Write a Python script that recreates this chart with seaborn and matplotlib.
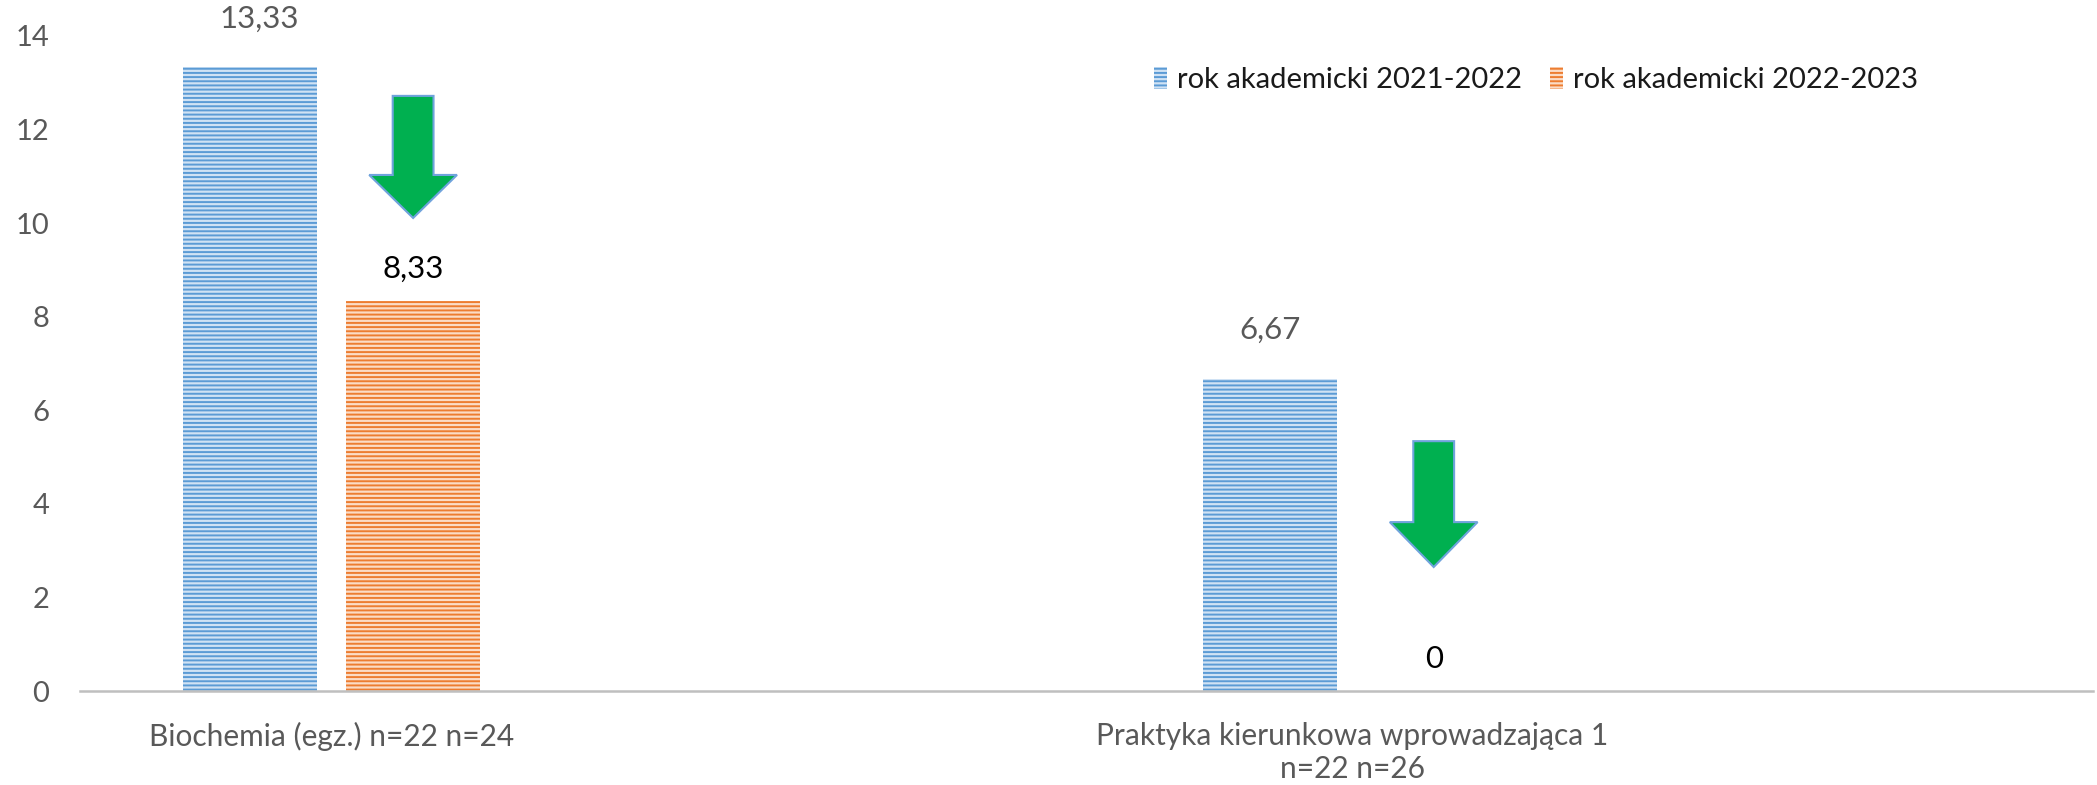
import matplotlib
matplotlib.use("Agg")
import matplotlib.pyplot as plt
import seaborn as sns
import pandas as pd
from matplotlib.patches import Polygon, Patch

# ---------------- data ----------------
categories = ["Biochemia (egz.) n=22 n=24",
              "Praktyka kierunkowa wprowadzająca 1\nn=22 n=26"]
series_names = ["rok akademicki 2021-2022", "rok akademicki 2022-2023"]
values_2021_2022 = [13.33, 6.67]
values_2022_2023 = [8.33, 0]
y_ticks = [0, 2, 4, 6, 8, 10, 12, 14]

# ---------------- style ----------------
line_colors = ["#5B9BD5", "#ED7D31"]
face_colors = ["#D0E2F4", "#FBDCC6"]
label_colors = ["#595959", "#000000"]
label_pads = [25, 13]
HATCH = "----"

sns.set_theme(style="white")
plt.rcParams['font.family'] = ['Lato', 'DejaVu Sans']
plt.rcParams['hatch.linewidth'] = 1.4

df = pd.DataFrame({
    "category": categories * 2,
    "series": [series_names[0]] * 2 + [series_names[1]] * 2,
    "value": values_2021_2022 + values_2022_2023,
})

W, H = 2097, 785
fig = plt.figure(figsize=(W / 100, H / 100), dpi=100)
ax = fig.add_axes([80 / W, 1 - 691 / H, 2013 / W, 655 / H])

sns.barplot(data=df, x="category", y="value", hue="series",
            order=categories, hue_order=series_names,
            palette=line_colors, width=0.32, gap=0.18,
            errorbar=None, legend=False, ax=ax)


def style_patch(p, i):
    p.set_facecolor(face_colors[i])
    p.set_edgecolor(line_colors[i])
    p.set_linewidth(0)
    p.set_hatch(HATCH)
    if hasattr(p, "set_hatchcolor"):
        p.set_hatchcolor(line_colors[i])


series_values = [values_2021_2022, values_2022_2023]
for i, cont in enumerate(ax.containers):
    for bar in cont:
        style_patch(bar, i)
    labels = [("%g" % v).replace(".", ",") for v in series_values[i]]
    texts = ax.bar_label(cont, labels=labels, padding=label_pads[i],
                         color=label_colors[i], fontsize=22.5)
    if i == 0:
        # first label sits slightly right of its bar in the original
        ann = texts[0]
        ann.xyann = (ann.xyann[0] + 7, ann.xyann[1])

ax.set_ylim(0, 14)
ax.set_xlim(-0.2464, 1.726)
ax.set_yticks(y_ticks)
ax.set_xlabel("")
ax.set_ylabel("")
for s in ["left", "top", "right"]:
    ax.spines[s].set_visible(False)
ax.spines["bottom"].set_color("#BFBFBF")
ax.spines["bottom"].set_linewidth(1.8)
ax.tick_params(axis="y", length=0, labelsize=21, labelcolor="#595959", pad=22)
ax.tick_params(axis="x", length=0, labelsize=21.5, labelcolor="#595959", pad=22)
for t in ax.get_xticklabels():
    t.set_linespacing(1.25)
ax.grid(False)

# ---------------- decorative down arrows over the 2022-2023 bars ----------------
arrow_top = [12.72, 5.34]
arrow_head = [11.03, 3.61]
arrow_bottom = [10.11, 2.65]
head_w = 0.086
shaft_w = 0.040
for j, bar in enumerate(ax.containers[1]):
    cx = bar.get_x() + bar.get_width() / 2
    pts = [
        (cx - shaft_w / 2, arrow_top[j]),
        (cx + shaft_w / 2, arrow_top[j]),
        (cx + shaft_w / 2, arrow_head[j]),
        (cx + head_w / 2, arrow_head[j]),
        (cx, arrow_bottom[j]),
        (cx - head_w / 2, arrow_head[j]),
        (cx - shaft_w / 2, arrow_head[j]),
    ]
    ax.add_patch(Polygon(pts, closed=True, facecolor="#00B050",
                         edgecolor="#6FA3DC", linewidth=1.5, zorder=5))

# ---------------- legend ----------------
handles = []
for i, name in enumerate(series_names):
    p = Patch(label=name)
    style_patch(p, i)
    handles.append(p)
leg = ax.legend(handles=handles, loc="center left",
                bbox_to_anchor=(1154 / W, 1 - 80 / H),
                bbox_transform=fig.transFigure, frameon=False, ncol=2,
                fontsize=21, handlelength=0.45, handleheight=0.8,
                handletextpad=0.35, columnspacing=0.95,
                borderaxespad=0, borderpad=0)
for t in leg.get_texts():
    t.set_color("#1A1A1A")

fig.savefig("out.png", dpi=100)
